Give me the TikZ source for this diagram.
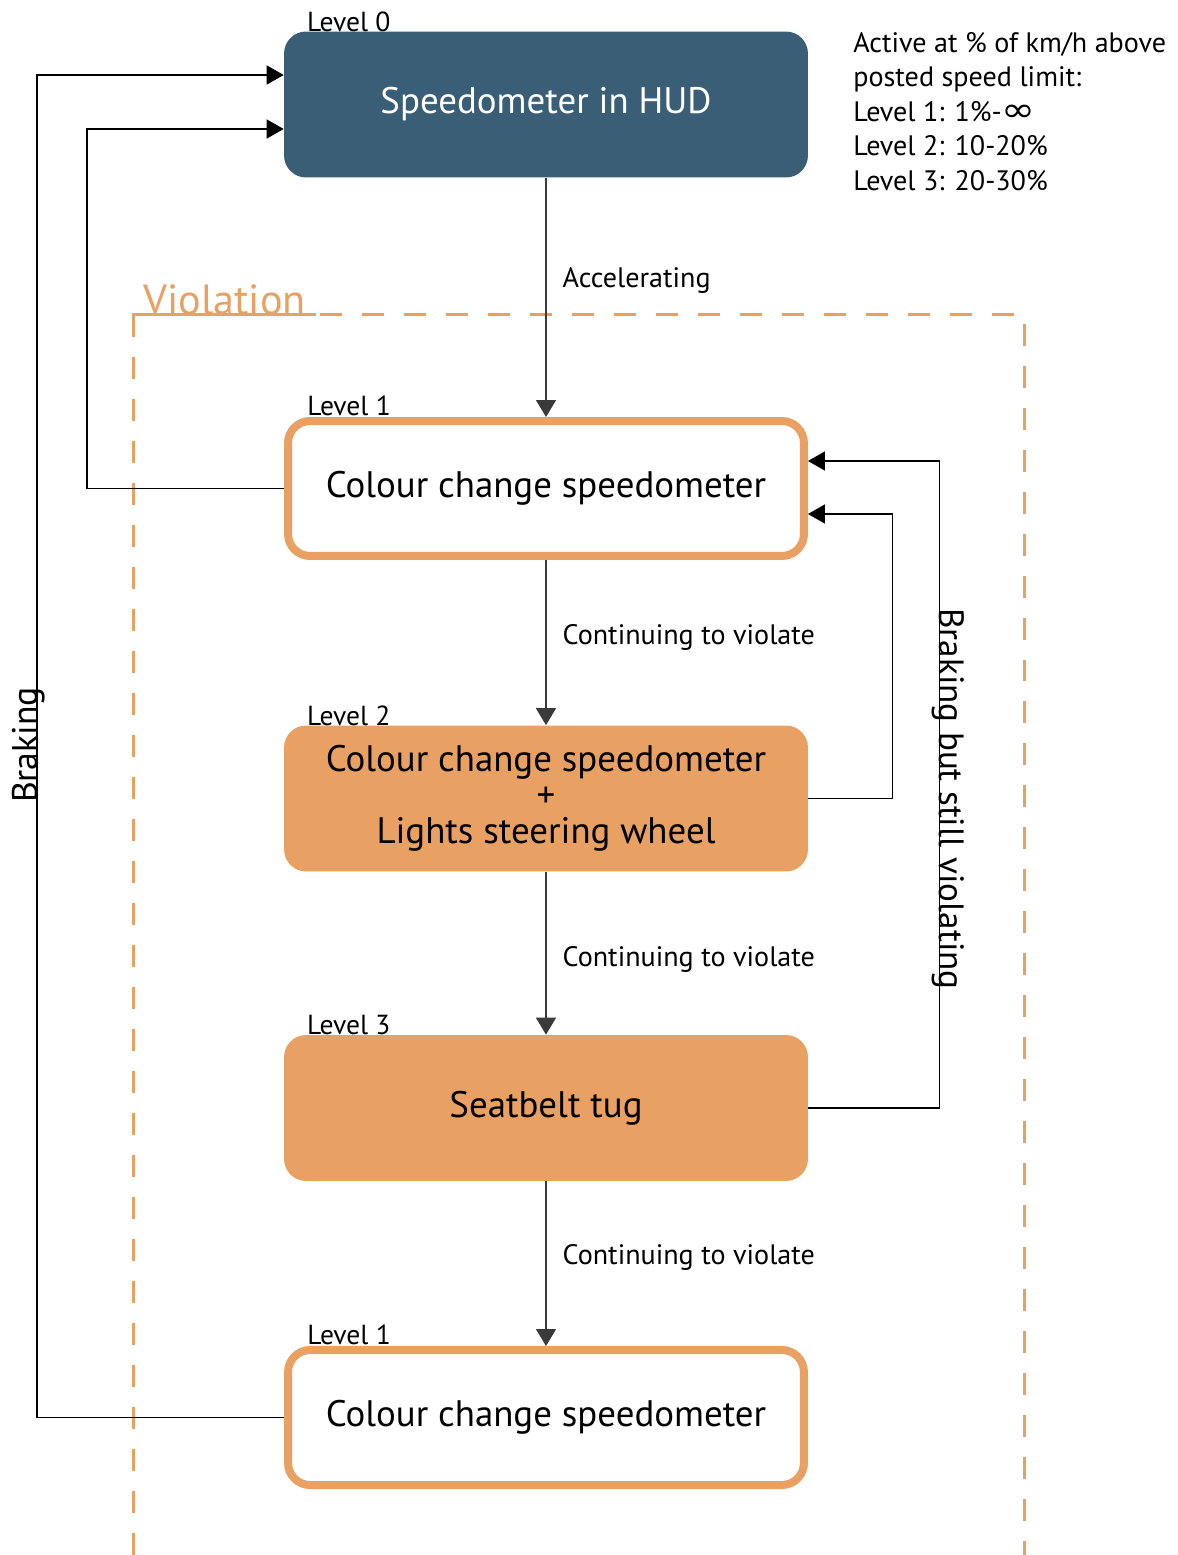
\documentclass[tikz,border=0pt]{standalone}
\usepackage{fontspec}
\setmainfont{PT Sans}
\newfontfamily\symbfont{DejaVu Sans}
\usepackage{xcolor}
\usepackage{graphicx}
\usetikzlibrary{arrows.meta,calc,positioning}
\definecolor{hudblue}{HTML}{3A5E75}
\definecolor{violorange}{HTML}{E8A063}
\definecolor{arrowgray}{HTML}{3A3A3A}
\tikzset{
  stage/.style={rounded corners=0.44cm,minimum width=10.48cm,minimum height=2.92cm,align=center,inner sep=0pt},
  hudbox/.style={stage,fill=hudblue,text=white,font=\fontsize{21}{25}\selectfont},
  outlinebox/.style={stage,draw=violorange,line width=0.16cm,fill=white,minimum width=10.32cm,minimum height=2.7cm,font=\fontsize{21}{25}\selectfont},
  filledbox/.style={stage,fill=violorange,font=\fontsize{21}{25}\selectfont},
  lvl/.style={anchor=base west,font=\fontsize{15.7}{18}\selectfont,inner sep=0pt},
  lbl/.style={anchor=west,xshift=0.32cm,inner sep=0pt,text=black,font=\fontsize{16}{18}\selectfont},
  down/.style={-{Triangle[length=0.34cm,width=0.4cm]},arrowgray,line width=0.8pt},
  back/.style={-{Triangle[length=0.34cm,width=0.38cm]},black,line width=0.8pt},
  violbox/.style={draw=violorange,line width=0.06cm,dash pattern=on 0.44cm off 0.4cm}
}
\begin{document}
\begin{tikzpicture}[x=0.02cm,y=-0.02cm]
\useasboundingbox (0,0) rectangle (1177,1555);
% violation area
\draw[violbox] (133,1555) |- (1024,314) -- (1024,1555);
\draw[violorange,line width=0.06cm] (133,320) |- (316,314);
\node[anchor=base west,text=violorange,font=\fontsize{24}{28}\selectfont,inner sep=0pt] (violtxt) at (143,314) {Violation};
% stages
\node[hudbox] (l0) at (546,104.5) {Speedometer in HUD};
\node[outlinebox] (l1) at (546,488.5) {Colour change speedometer};
\node[filledbox] (l2) at (546,798.5) {Colour change speedometer\\[-4.5pt]+\\[-4.5pt]Lights steering wheel};
\node[filledbox] (l3) at (546,1108) {Seatbelt tug};
\node[outlinebox] (l1b) at (546,1417.5) {Colour change speedometer};
% level tags
\node[lvl] (t0) at ($(l0.north west)+(23,0)$) {Level 0};
\node[lvl] (t1) at ($(l1.north west)+(23,-2)$) {Level 1};
\node[lvl] (t2) at ($(l2.north west)+(23,0)$) {Level 2};
\node[lvl] (t3) at ($(l3.north west)+(23,0)$) {Level 3};
\node[lvl] (t1b) at ($(l1b.north west)+(23,-2)$) {Level 1};
% info
\node[anchor=north west,align=left,inner sep=0pt,font=\fontsize{16}{19.6}\selectfont] (info) at (853,32)
  {Active at \% of km/h above\\posted speed limit:\\Level 1: 1\%-\scalebox{1.45}[1.2]{\symbfont ∞}\\Level 2: 10-20\%\\Level 3: 20-30\%};
% escalation
\draw[down] (l0.south) -- node[lbl,pos=0.43] {Accelerating} (l1.north);
\draw[down] (l1.south) -- node[lbl,pos=0.47] {Continuing to violate} (l2.north);
\draw[down] (l2.south) -- node[lbl,pos=0.54] {Continuing to violate} (l3.north);
\draw[down] (l3.south) -- node[lbl,pos=0.46] {Continuing to violate} (l1b.north);
% braking back
\draw[back] (l1.west) -- ++(-197,0) |- ($(l0.west)+(0,24.5)$);
\draw[back] (l1b.west) -- ++(-247,0) |- ($(l0.west)+(0,-29.5)$);
\draw[back] (l2.east) -- ++(84,0) |- ($(l1.east)+(0,25.5)$);
\draw[back] (l3.east) -- ++(131,0) |- ($(l1.east)+(0,-27.5)$);
\node[rotate=90,anchor=base,inner sep=0pt,font=\fontsize{20.3}{22}\selectfont] (brk) at (37,745) {Braking};
\node[rotate=-90,anchor=base,inner sep=0pt,font=\fontsize{20}{22}\selectfont] (brkv) at (939,799) {Braking but still violating};
\end{tikzpicture}
\end{document}
